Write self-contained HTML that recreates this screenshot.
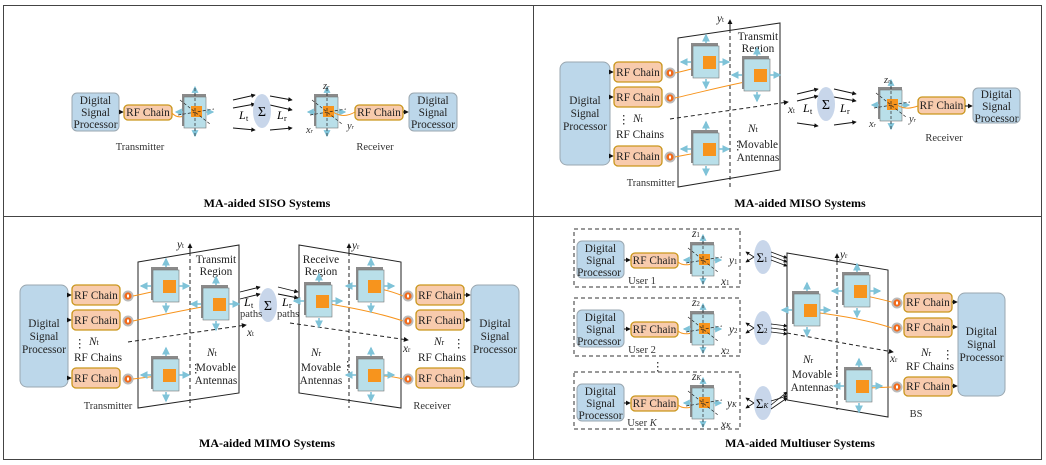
<!DOCTYPE html>
<html><head><meta charset="utf-8"><style>
html,body{margin:0;padding:0;background:#fff}
svg{display:block;font-family:"Liberation Serif",serif}
.t{font-size:11.3px;fill:#222}
.s{font-size:10.5px;fill:#333}
.ti{font-size:12px;font-weight:bold;fill:#000}
.it{font-style:italic}
</style></head><body>
<svg width="1046" height="465" viewBox="0 0 1046 465" xmlns="http://www.w3.org/2000/svg">
<defs>
<marker id="ah" viewBox="0 0 6 6" refX="5" refY="3" markerWidth="5" markerHeight="5" orient="auto"><path d="M0,0L6,3L0,6z" fill="#111"/></marker>
<marker id="bh" viewBox="0 0 6 6" refX="5" refY="3" markerWidth="5" markerHeight="5" orient="auto"><path d="M0,0L6,3L0,6z" fill="#7fc3d8"/></marker>
<g id="ma">
<rect x="-16" y="-18" width="27" height="33" fill="#8a8a8a"/>
<rect x="-14" y="-15" width="26" height="32" fill="#b9dfe9" stroke="#777" stroke-width="0.6"/>
<rect x="-4" y="-5" width="13" height="13" fill="#f7941d"/>
<g stroke="#7fc3d8" stroke-width="1.6" marker-end="url(#bh)">
<line x1="-1" y1="-18" x2="-1" y2="-26"/><line x1="-1" y1="18" x2="-1" y2="27"/>
<line x1="-16" y1="1" x2="-26" y2="1"/><line x1="12" y1="1" x2="22" y2="1"/></g>
</g>
<g id="sa">
<rect x="-14" y="-18" width="24" height="32" fill="#8a8a8a"/>
<rect x="-12" y="-15" width="22" height="31" fill="#b9dfe9" stroke="#777" stroke-width="0.6"/>
<rect x="-5" y="-6" width="11" height="11" fill="#f7941d"/>
<g stroke="#7fc3d8" stroke-width="1.4" marker-end="url(#bh)">
<line x1="-1" y1="-18" x2="-1" y2="-25"/><line x1="-1" y1="17" x2="-1" y2="24"/>
<line x1="-13" y1="0" x2="-20" y2="0"/><line x1="10" y1="0" x2="17" y2="0"/></g>
<g stroke="#222" stroke-width="0.7" stroke-dasharray="3,2" fill="none">
<line x1="-1" y1="-24" x2="-1" y2="24"/><line x1="-16" y1="-12" x2="14" y2="12"/><line x1="-18" y1="3" x2="18" y2="-3"/></g>
</g>
<g id="cc"><circle r="5.5" fill="#bbb"/><circle r="3.6" fill="#f26a1b"/><rect x="-1" y="-1.5" width="2" height="3" fill="#fff"/></g>
<g id="sig"><ellipse rx="9" ry="17" fill="#c8d6ea"/></g>
</defs>

<rect x="3.5" y="5.5" width="1038" height="454" fill="none" stroke="#444" stroke-width="1"/>
<line x1="533.5" y1="5" x2="533.5" y2="460" stroke="#444"/>
<line x1="3" y1="216.5" x2="1042" y2="216.5" stroke="#444"/>

<text class="ti" x="267" y="207" text-anchor="middle">MA-aided SISO Systems</text>
<text class="ti" x="800" y="207" text-anchor="middle">MA-aided MISO Systems</text>
<text class="ti" x="267" y="447" text-anchor="middle">MA-aided MIMO Systems</text>
<text class="ti" x="800" y="447" text-anchor="middle">MA-aided  Multiuser Systems</text>

<!-- ===== SISO ===== -->
<rect x="72" y="93" width="47" height="38" rx="5" fill="#bcd7ea" stroke="#9aa7b0"/>
<text class="t" text-anchor="middle" font-size="10.5"><tspan x="95.5" y="104">Digital</tspan><tspan x="95.5" y="116">Signal</tspan><tspan x="95.5" y="128">Processor</tspan></text>
<line x1="119" y1="112" x2="123" y2="112" stroke="#111" marker-end="url(#ah)"/>
<rect x="124" y="105" width="48" height="15" rx="4" fill="#f8cbad" stroke="#c9961c" stroke-width="1.3"/>
<text class="t" x="148" y="116" text-anchor="middle" font-size="10.5">RF Chain</text>
<path d="M172,113 C178,120 185,116 195,112" stroke="#f7941d" fill="none"/>
<use href="#sa" x="196" y="112"/>
<text class="s" x="140" y="150" text-anchor="middle">Transmitter</text>
<g stroke="#111" stroke-width="0.9" marker-end="url(#ah)">
<line x1="233" y1="100" x2="255" y2="95"/><line x1="233" y1="108" x2="255" y2="104"/><line x1="233" y1="128" x2="255" y2="130"/>
<line x1="270" y1="96" x2="292" y2="100"/><line x1="270" y1="105" x2="292" y2="110"/><line x1="270" y1="130" x2="292" y2="128"/></g>
<use href="#sig" x="262" y="111"/>
<text x="262" y="116" font-size="14" text-anchor="middle">Σ</text>
<text class="it" x="239" y="119" font-size="12">L</text><text x="246" y="121" font-size="8">t</text>
<text class="it" x="277" y="119" font-size="12">L</text><text x="284" y="121" font-size="8">r</text>
<use href="#sa" x="328" y="112"/>
<text class="s it" x="323" y="89" font-size="8">z<tspan font-size="6">r</tspan></text>
<text class="s it" x="306" y="133" font-size="9">x<tspan font-size="6">r</tspan></text>
<text class="s it" x="347" y="129" font-size="9">y<tspan font-size="6">r</tspan></text>
<path d="M333,112 C342,118 350,115 355,112" stroke="#f7941d" fill="none"/>
<rect x="355" y="105" width="48" height="15" rx="4" fill="#f8cbad" stroke="#c9961c" stroke-width="1.3"/>
<text class="t" x="379" y="116" text-anchor="middle" font-size="10.5">RF Chain</text>
<line x1="403" y1="112" x2="408" y2="112" stroke="#111" marker-end="url(#ah)"/>
<rect x="409" y="93" width="48" height="38" rx="5" fill="#bcd7ea" stroke="#9aa7b0"/>
<text class="t" text-anchor="middle" font-size="10.5"><tspan x="433" y="104">Digital</tspan><tspan x="433" y="116">Signal</tspan><tspan x="433" y="128">Processor</tspan></text>
<text class="s" x="375" y="150" text-anchor="middle">Receiver</text>

<!-- ===== MISO ===== -->
<rect x="560" y="62" width="50" height="103" rx="7" fill="#bcd7ea" stroke="#9aa7b0"/>
<text class="t" text-anchor="middle"><tspan x="585" y="104">Digital</tspan><tspan x="585" y="117">Signal</tspan><tspan x="585" y="130">Processor</tspan></text>
<g stroke="#111" marker-end="url(#ah)"><line x1="610" y1="72" x2="613" y2="72"/><line x1="610" y1="97" x2="613" y2="97"/><line x1="610" y1="156" x2="613" y2="156"/></g>
<g fill="#f8cbad" stroke="#c9961c" stroke-width="1.3">
<rect x="614" y="62" width="48" height="20" rx="4"/><rect x="614" y="87" width="48" height="20" rx="4"/><rect x="614" y="146" width="48" height="20" rx="4"/></g>
<text class="t" text-anchor="middle"><tspan x="638" y="76">RF Chain</tspan><tspan x="638" y="101">RF Chain</tspan><tspan x="638" y="160">RF Chain</tspan></text>
<use href="#cc" x="670" y="73"/><use href="#cc" x="670" y="98"/><use href="#cc" x="670" y="157"/>
<text class="t" x="618" y="123">⋮</text>
<text class="t it" x="633" y="122" font-size="12">N<tspan font-size="8" font-style="normal">t</tspan></text>
<text class="t" x="616" y="138">RF Chains</text>
<polygon points="678,38 780,23 780,170 678,187" fill="#fff" stroke="#222"/>
<line x1="730" y1="22" x2="730" y2="187" stroke="#222" stroke-dasharray="4,3"/>
<line x1="730" y1="30" x2="730" y2="20" stroke="#111" marker-end="url(#ah)"/>
<line x1="670" y1="119" x2="788" y2="102" stroke="#222" stroke-dasharray="4,3" marker-end="url(#ah)"/>
<text class="t it" x="717" y="22">y<tspan font-size="7" font-style="normal">t</tspan></text>
<text class="t" text-anchor="middle"><tspan x="758" y="40">Transmit</tspan><tspan x="758" y="52">Region</tspan></text>
<path d="M675,73 C690,70 700,66 712,64" stroke="#f7941d" fill="none"/>
<path d="M675,98 C710,90 740,82 762,79" stroke="#f7941d" fill="none"/>
<path d="M675,157 C690,154 700,152 712,151" stroke="#f7941d" fill="none"/>
<use href="#ma" x="707" y="61"/><use href="#ma" x="758" y="74"/><use href="#ma" x="707" y="148"/>
<text class="t it" x="748" y="132" font-size="12">N<tspan font-size="8" font-style="normal">t</tspan></text>
<text class="t" text-anchor="middle"><tspan x="758" y="148">Movable</tspan><tspan x="758" y="161">Antennas</tspan></text>
<text class="t" x="732" y="149">⋮</text>
<text class="s" x="651" y="186" text-anchor="middle">Transmitter</text>
<text class="t it" x="788" y="113">x<tspan font-size="7" font-style="normal">t</tspan></text>
<g stroke="#111" stroke-width="0.9" marker-end="url(#ah)">
<line x1="797" y1="94" x2="818" y2="89"/><line x1="797" y1="101" x2="818" y2="96"/><line x1="797" y1="123" x2="818" y2="126"/>
<line x1="834" y1="89" x2="856" y2="94"/><line x1="834" y1="97" x2="856" y2="101"/><line x1="834" y1="125" x2="856" y2="122"/></g>
<use href="#sig" x="826" y="104"/>
<text x="826" y="109" font-size="14" text-anchor="middle">Σ</text>
<text class="it" x="803" y="112" font-size="12">L</text><text x="810" y="114" font-size="8">t</text>
<text class="it" x="840" y="112" font-size="12">L</text><text x="847" y="114" font-size="8">r</text>
<use href="#sa" x="892" y="105"/>
<text class="s it" x="884" y="83" font-size="8">z<tspan font-size="6">r</tspan></text>
<text class="s it" x="869" y="127" font-size="9">x<tspan font-size="6">r</tspan></text>
<text class="s it" x="909" y="122" font-size="9">y<tspan font-size="6">r</tspan></text>
<path d="M897,105 C905,110 912,108 918,106" stroke="#f7941d" fill="none"/>
<rect x="918" y="97" width="47" height="17" rx="4" fill="#f8cbad" stroke="#c9961c" stroke-width="1.3"/>
<text class="t" x="941.5" y="109" text-anchor="middle" font-size="10.5">RF Chain</text>
<line x1="965" y1="106" x2="972" y2="106" stroke="#111" marker-end="url(#ah)"/>
<rect x="973" y="88" width="47" height="35" rx="5" fill="#bcd7ea" stroke="#9aa7b0"/>
<text class="t" text-anchor="middle" font-size="10.5"><tspan x="996.5" y="98">Digital</tspan><tspan x="996.5" y="110">Signal</tspan><tspan x="996.5" y="122">Processor</tspan></text>
<text class="s" x="944" y="141" text-anchor="middle">Receiver</text>

<!-- ===== MIMO ===== -->
<rect x="20" y="285" width="48" height="102" rx="7" fill="#bcd7ea" stroke="#9aa7b0"/>
<text class="t" text-anchor="middle"><tspan x="44" y="327">Digital</tspan><tspan x="44" y="340">Signal</tspan><tspan x="44" y="353">Processor</tspan></text>
<g stroke="#111" marker-end="url(#ah)"><line x1="68" y1="295" x2="71" y2="295"/><line x1="68" y1="320" x2="71" y2="320"/><line x1="68" y1="378" x2="71" y2="378"/></g>
<g fill="#f8cbad" stroke="#c9961c" stroke-width="1.3">
<rect x="72" y="285" width="48" height="20" rx="4"/><rect x="72" y="310" width="48" height="20" rx="4"/><rect x="72" y="368" width="48" height="20" rx="4"/></g>
<text class="t" text-anchor="middle"><tspan x="96" y="299">RF Chain</tspan><tspan x="96" y="324">RF Chain</tspan><tspan x="96" y="382">RF Chain</tspan></text>
<use href="#cc" x="128" y="296"/><use href="#cc" x="128" y="321"/><use href="#cc" x="128" y="379"/>
<text class="t" x="74" y="347">⋮</text>
<text class="t it" x="89" y="345" font-size="12">N<tspan font-size="8" font-style="normal">t</tspan></text>
<text class="t" x="74" y="361">RF Chains</text>
<polygon points="138,262 239,245 239,393 138,408" fill="#fff" stroke="#222"/>
<line x1="190" y1="245" x2="190" y2="408" stroke="#222" stroke-dasharray="4,3"/>
<line x1="190" y1="252" x2="190" y2="244" stroke="#111" marker-end="url(#ah)"/>
<line x1="128" y1="342" x2="246" y2="325" stroke="#222" stroke-dasharray="4,3" marker-end="url(#ah)"/>
<text class="t it" x="177" y="248">y<tspan font-size="7" font-style="normal">t</tspan></text>
<text class="t" text-anchor="middle"><tspan x="216" y="263">Transmit</tspan><tspan x="216" y="275">Region</tspan></text>
<path d="M133,296 C148,293 158,290 170,289" stroke="#f7941d" fill="none"/>
<path d="M133,321 C165,314 195,308 219,304" stroke="#f7941d" fill="none"/>
<path d="M133,379 C148,377 158,376 170,375" stroke="#f7941d" fill="none"/>
<use href="#ma" x="167" y="285"/><use href="#ma" x="217" y="303"/><use href="#ma" x="167" y="374"/>
<text class="t it" x="207" y="356" font-size="12">N<tspan font-size="8" font-style="normal">t</tspan></text>
<text class="t" text-anchor="middle"><tspan x="216" y="371">Movable</tspan><tspan x="216" y="384">Antennas</tspan></text>
<text class="t" x="190" y="372">⋮</text>
<text class="s" x="108" y="409" text-anchor="middle">Transmitter</text>
<text class="t it" x="247" y="336">x<tspan font-size="7" font-style="normal">t</tspan></text>
<g stroke="#111" stroke-width="0.9" marker-end="url(#ah)">
<line x1="240" y1="292" x2="260" y2="287"/><line x1="240" y1="299" x2="260" y2="294"/>
<line x1="278" y1="287" x2="298" y2="292"/><line x1="278" y1="294" x2="298" y2="298"/></g>
<use href="#sig" x="268" y="305"/>
<text x="268" y="310" font-size="14" text-anchor="middle">Σ</text>
<text class="it" x="244" y="306" font-size="12">L</text><text x="251" y="308" font-size="8">t</text>
<text class="s" x="240" y="317">paths</text>
<text class="it" x="282" y="306" font-size="12">L</text><text x="289" y="308" font-size="8">r</text>
<text class="s" x="277" y="317">paths</text>
<polygon points="299,245 401,262 401,408 299,393" fill="#fff" stroke="#222"/>
<line x1="349" y1="245" x2="349" y2="408" stroke="#222" stroke-dasharray="4,3"/>
<line x1="349" y1="252" x2="349" y2="244" stroke="#111" marker-end="url(#ah)"/>
<line x1="290" y1="323" x2="408" y2="340" stroke="#222" stroke-dasharray="4,3" marker-end="url(#ah)"/>
<text class="t it" x="352" y="249">y<tspan font-size="7" font-style="normal">r</tspan></text>
<text class="t" text-anchor="middle"><tspan x="321" y="263">Receive</tspan><tspan x="321" y="275">Region</tspan></text>
<path d="M323,303 C355,308 385,315 403,321" stroke="#f7941d" fill="none"/>
<path d="M375,288 C388,290 396,293 403,296" stroke="#f7941d" fill="none"/>
<path d="M375,375 C388,376 396,377 403,379" stroke="#f7941d" fill="none"/>
<use href="#ma" x="320" y="300"/><use href="#ma" x="372" y="285"/><use href="#ma" x="372" y="374"/>
<text class="t it" x="311" y="356" font-size="12">N<tspan font-size="8" font-style="normal">r</tspan></text>
<text class="t" text-anchor="middle"><tspan x="321" y="371">Movable</tspan><tspan x="321" y="384">Antennas</tspan></text>
<text class="t" x="342" y="369">⋮</text>
<text class="t it" x="403" y="352">x<tspan font-size="7" font-style="normal">r</tspan></text>
<use href="#cc" x="408" y="296"/><use href="#cc" x="408" y="321"/><use href="#cc" x="408" y="379"/>
<g fill="#f8cbad" stroke="#c9961c" stroke-width="1.3">
<rect x="416" y="285" width="48" height="20" rx="4"/><rect x="416" y="310" width="48" height="20" rx="4"/><rect x="416" y="368" width="48" height="20" rx="4"/></g>
<text class="t" text-anchor="middle"><tspan x="440" y="299">RF Chain</tspan><tspan x="440" y="324">RF Chain</tspan><tspan x="440" y="382">RF Chain</tspan></text>
<g stroke="#111" marker-end="url(#ah)"><line x1="464" y1="295" x2="470" y2="295"/><line x1="464" y1="320" x2="470" y2="320"/><line x1="464" y1="378" x2="470" y2="378"/></g>
<text class="t it" x="434" y="345" font-size="12">N<tspan font-size="8" font-style="normal">r</tspan></text>
<text class="t" x="453" y="347">⋮</text>
<text class="t" x="418" y="361">RF Chains</text>
<rect x="471" y="285" width="48" height="102" rx="7" fill="#bcd7ea" stroke="#9aa7b0"/>
<text class="t" text-anchor="middle"><tspan x="495" y="327">Digital</tspan><tspan x="495" y="340">Signal</tspan><tspan x="495" y="353">Processor</tspan></text>
<text class="s" x="432" y="409" text-anchor="middle">Receiver</text>

<!-- ===== Multiuser ===== -->
<g fill="none" stroke="#333" stroke-dasharray="4,3">
<rect x="574" y="229" width="166" height="58"/><rect x="574" y="298" width="166" height="58"/><rect x="574" y="372" width="166" height="57"/></g>
<g fill="#bcd7ea" stroke="#9aa7b0">
<rect x="577" y="241" width="47" height="37" rx="5"/><rect x="577" y="310" width="47" height="37" rx="5"/><rect x="577" y="384" width="47" height="37" rx="5"/></g>
<text class="t" text-anchor="middle" font-size="10.8"><tspan x="600.5" y="252">Digital</tspan><tspan x="600.5" y="264">Signal</tspan><tspan x="600.5" y="276">Processor</tspan>
<tspan x="600.5" y="321">Digital</tspan><tspan x="600.5" y="333">Signal</tspan><tspan x="600.5" y="345">Processor</tspan>
<tspan x="600.5" y="395">Digital</tspan><tspan x="600.5" y="407">Signal</tspan><tspan x="600.5" y="419">Processor</tspan></text>
<g stroke="#111" marker-end="url(#ah)"><line x1="624" y1="260" x2="630" y2="260"/><line x1="624" y1="329" x2="630" y2="329"/><line x1="624" y1="403" x2="630" y2="403"/></g>
<g fill="#f8cbad" stroke="#c9961c" stroke-width="1.3">
<rect x="631" y="253" width="47" height="15" rx="4"/><rect x="631" y="322" width="47" height="15" rx="4"/><rect x="631" y="396" width="47" height="15" rx="4"/></g>
<text class="t" text-anchor="middle" font-size="10.8"><tspan x="654.5" y="264">RF Chain</tspan><tspan x="654.5" y="333">RF Chain</tspan><tspan x="654.5" y="407">RF Chain</tspan></text>
<g stroke="#f7941d" fill="none"><path d="M678,262 C685,268 695,263 703,260"/><path d="M678,331 C685,337 695,332 703,329"/><path d="M678,405 C685,411 695,406 703,403"/></g>
<use href="#sa" x="704" y="260"/><use href="#sa" x="704" y="329"/><use href="#sa" x="704" y="403"/>
<text class="s" x="642" y="284" text-anchor="middle">User 1</text>
<text class="s" x="642" y="353" text-anchor="middle">User 2</text>
<text class="s" x="642" y="426" text-anchor="middle">User <tspan class="it">K</tspan></text>
<text class="t" x="652" y="370">⋮</text>
<g class="t it" font-size="10">
<text x="692" y="237">z<tspan font-size="7" font-style="normal">1</tspan></text><text x="729" y="264">y<tspan font-size="7" font-style="normal">1</tspan></text><text x="721" y="285">x<tspan font-size="7" font-style="normal">1</tspan></text>
<text x="692" y="306">z<tspan font-size="7" font-style="normal">2</tspan></text><text x="729" y="333">y<tspan font-size="7" font-style="normal">2</tspan></text><text x="721" y="354">x<tspan font-size="7" font-style="normal">2</tspan></text>
<text x="692" y="380">z<tspan font-size="7">K</tspan></text><text x="727" y="407">y<tspan font-size="7">K</tspan></text><text x="721" y="428">x<tspan font-size="7">K</tspan></text></g>
<use href="#sig" x="763" y="257"/><use href="#sig" x="763" y="328"/><use href="#sig" x="763" y="403"/>
<text x="762" y="262" font-size="13" text-anchor="middle">Σ<tspan font-size="7">1</tspan></text>
<text x="762" y="333" font-size="13" text-anchor="middle">Σ<tspan font-size="7">2</tspan></text>
<text x="762" y="408" font-size="13" text-anchor="middle">Σ<tspan font-size="7" font-style="italic">K</tspan></text>
<g stroke="#111" stroke-width="0.8" marker-end="url(#ah)">
<line x1="754" y1="257" x2="746" y2="252"/><line x1="754" y1="257" x2="746" y2="262"/>
<line x1="771" y1="252" x2="787" y2="258"/><line x1="771" y1="256" x2="787" y2="262"/><line x1="771" y1="260" x2="787" y2="266"/>
<line x1="754" y1="328" x2="746" y2="323"/><line x1="754" y1="328" x2="746" y2="333"/>
<line x1="771" y1="324" x2="787" y2="326"/><line x1="771" y1="328" x2="787" y2="330"/><line x1="771" y1="332" x2="787" y2="334"/>
<line x1="754" y1="403" x2="746" y2="398"/><line x1="754" y1="403" x2="746" y2="408"/>
<line x1="771" y1="405" x2="787" y2="392"/><line x1="771" y1="401" x2="787" y2="396"/><line x1="771" y1="409" x2="787" y2="398"/></g>
<polygon points="787,253 888,270 888,417 787,400" fill="#fff" stroke="#222"/>
<line x1="837" y1="254" x2="837" y2="410" stroke="#222" stroke-dasharray="4,3"/>
<line x1="837" y1="262" x2="837" y2="254" stroke="#111" marker-end="url(#ah)"/>
<text class="t it" x="840" y="258">y<tspan font-size="7" font-style="normal">r</tspan></text>
<line x1="787" y1="333" x2="893" y2="352" stroke="#222" stroke-dasharray="4,3" marker-end="url(#ah)"/>
<text class="t it" x="890" y="362">x<tspan font-size="7" font-style="normal">r</tspan></text>
<path d="M812,312 C845,316 875,322 895,329" stroke="#f7941d" fill="none"/>
<path d="M862,295 C875,298 885,300 895,303" stroke="#f7941d" fill="none"/>
<path d="M862,388 C875,388 885,387 895,387" stroke="#f7941d" fill="none"/>
<use href="#ma" x="808" y="309"/><use href="#ma" x="858" y="290"/><use href="#ma" x="860" y="385"/>
<text class="t it" x="803" y="363" font-size="12">N<tspan font-size="8" font-style="normal">r</tspan></text>
<text class="t" text-anchor="middle"><tspan x="812" y="378">Movable</tspan><tspan x="812" y="391">Antennas</tspan></text>
<text class="t" x="831" y="375">⋮</text>
<use href="#cc" x="897" y="303"/><use href="#cc" x="897" y="328"/><use href="#cc" x="897" y="387"/>
<g fill="#f8cbad" stroke="#c9961c" stroke-width="1.3">
<rect x="904" y="293" width="48" height="19" rx="4"/><rect x="904" y="318" width="48" height="19" rx="4"/><rect x="904" y="377" width="48" height="19" rx="4"/></g>
<text class="t" text-anchor="middle"><tspan x="928" y="306">RF Chain</tspan><tspan x="928" y="331">RF Chain</tspan><tspan x="928" y="390">RF Chain</tspan></text>
<g stroke="#111" marker-end="url(#ah)"><line x1="952" y1="302" x2="957" y2="302"/><line x1="952" y1="327" x2="957" y2="327"/><line x1="952" y1="386" x2="957" y2="386"/></g>
<text class="t it" x="921" y="356" font-size="12">N<tspan font-size="8" font-style="normal">r</tspan></text>
<text class="t" x="942" y="358">⋮</text>
<text class="t" x="906" y="370">RF Chains</text>
<rect x="958" y="293" width="47" height="103" rx="7" fill="#bcd7ea" stroke="#9aa7b0"/>
<text class="t" text-anchor="middle"><tspan x="981.5" y="335">Digital</tspan><tspan x="981.5" y="348">Signal</tspan><tspan x="981.5" y="361">Processor</tspan></text>
<text class="s" x="916" y="417" text-anchor="middle">BS</text>
</svg>
</body></html>
